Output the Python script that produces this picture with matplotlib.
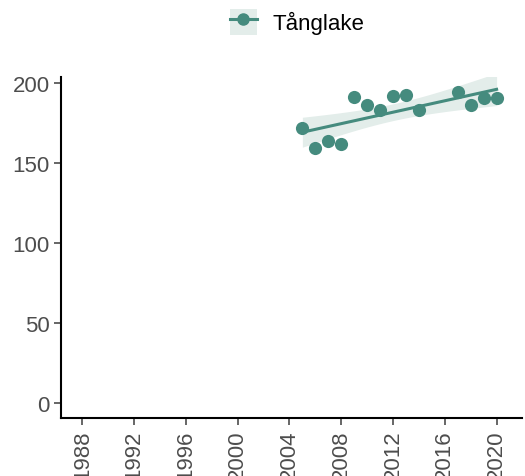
import numpy as np
import matplotlib
matplotlib.use('Agg')
import matplotlib.pyplot as plt
from matplotlib.patches import Patch
from matplotlib.lines import Line2D

plt.rcParams['font.family'] = ['Liberation Sans', 'DejaVu Sans']

years = np.array([2005, 2006, 2007, 2008, 2009, 2010, 2011, 2012, 2013, 2014,
                  2017, 2018, 2019, 2020])
values = np.array([171.8, 159.3, 164.1, 161.8, 191.4, 186.2, 183.3, 192.2,
                   192.7, 183.5, 194.4, 186.4, 190.6, 190.6])
xticks = [1988, 1992, 1996, 2000, 2004, 2008, 2012, 2016, 2020]
yticks = [0, 50, 100, 150, 200]
label = "Tånglake"

col = '#458b7e'
fill = '#e3edea'

# linjär regression med 95% konfidensband
n = len(years)
b, a = np.polyfit(years, values, 1)
xs = np.linspace(years.min(), years.max(), 80)
pred = a + b * xs
resid = values - (a + b * years)
s = np.sqrt(np.sum(resid ** 2) / (n - 2))
sxx = np.sum((years - years.mean()) ** 2)
se = s * np.sqrt(1 / n + (xs - years.mean()) ** 2 / sxx)
t = 2.179  # t(0.975, df=12)

fig = plt.figure(figsize=(5.25, 4.77), dpi=100)
ax = fig.add_axes([0.116, 0.121, 0.878, 0.715])

ax.fill_between(xs, pred - t * se, pred + t * se, color=fill, lw=0)
ax.plot(xs, pred, color=col, lw=2.2)
ax.scatter(years, values, s=90, color=col, zorder=3, linewidths=0)

ax.set_xlim(1986.35, 2021.95)
ax.set_ylim(-9.8, 203.8)
ax.set_xticks(xticks)
ax.set_yticks(yticks)
ax.set_xticklabels([str(x) for x in xticks], rotation=90)
ax.tick_params(labelsize=16, colors='#4d4d4d', length=5, width=1.2, pad=3)
for sp in ['top', 'right']:
    ax.spines[sp].set_visible(False)
for sp in ['left', 'bottom']:
    ax.spines[sp].set_linewidth(1.5)
    ax.spines[sp].set_color('black')

h = (Patch(facecolor=fill, edgecolor='none'),
     Line2D([], [], color=col, lw=2.2, marker='o', markersize=8))
fig.legend([h], [label], loc='center', bbox_to_anchor=(0.566, 0.952),
           frameon=False, fontsize=16, handlelength=1.2, handleheight=1.4,
           handletextpad=0.7)

fig.savefig('out.png', dpi=100)
